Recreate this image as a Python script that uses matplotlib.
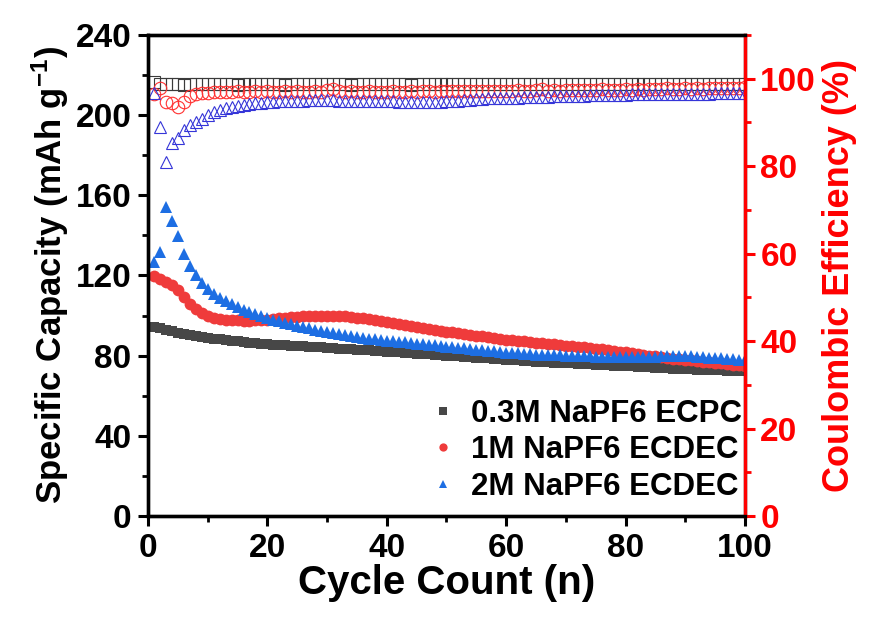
import numpy as np
import matplotlib
matplotlib.use("Agg")
import matplotlib.pyplot as plt
from matplotlib.ticker import MultipleLocator

# datos
ciclos = np.arange(1, 101)

cap_03 = [94.5, 93.6, 92.8, 92.1, 91.5, 90.9, 90.3, 89.8, 89.3, 88.9,
          88.5, 88.1, 87.7, 87.4, 87.1, 86.8, 86.5, 86.2, 86.0, 85.7,
          85.5, 85.3, 85.1, 84.9, 84.7, 84.6, 84.4, 84.2, 84.1, 83.9,
          83.7, 83.5, 83.3, 83.2, 83.0, 82.8, 82.6, 82.4, 82.2, 82.0,
          81.8, 81.6, 81.4, 81.2, 81.0, 80.8, 80.6, 80.4, 80.2, 80.0,
          79.8, 79.6, 79.4, 79.2, 79.0, 78.8, 78.6, 78.4, 78.2, 78.0,
          77.8, 77.6, 77.4, 77.2, 77.0, 76.8, 76.7, 76.5, 76.4, 76.2,
          76.1, 75.9, 75.8, 75.6, 75.5, 75.3, 75.2, 75.0, 74.9, 74.7,
          74.6, 74.4, 74.3, 74.1, 74.0, 73.8, 73.7, 73.5, 73.4, 73.2,
          73.1, 73.0, 72.9, 72.8, 72.7, 72.6, 72.5, 72.4, 72.3, 72.2]

cap_1m = [119.5, 118.0, 117.0, 115.5, 113.0, 109.5, 106.0, 103.5, 101.5, 100.0,
          99.0, 98.5, 98.0, 97.8, 97.6, 97.5, 97.5, 97.6, 97.8, 98.0,
          98.3, 98.6, 98.9, 99.2, 99.4, 99.6, 99.8, 99.9, 100.0, 100.0,
          99.9, 99.8, 99.6, 99.3, 99.0, 98.6, 98.1, 97.6, 97.1, 96.6,
          96.1, 95.6, 95.1, 94.6, 94.1, 93.6, 93.2, 92.8, 92.4, 92.0,
          91.6, 91.2, 90.8, 90.4, 90.0, 89.6, 89.2, 88.8, 88.4, 88.0,
          87.7, 87.4, 87.1, 86.8, 86.5, 86.2, 85.9, 85.6, 85.3, 85.0,
          84.7, 84.4, 84.1, 83.8, 83.5, 83.2, 82.8, 82.4, 82.0, 81.6,
          81.2, 80.8, 80.4, 80.0, 79.6, 79.2, 78.8, 78.5, 78.2, 77.9,
          77.6, 77.3, 77.0, 76.7, 76.4, 76.1, 75.8, 75.5, 75.2, 74.8]

cap_2m = [126.5, 131.5, 154.0, 147.0, 139.5, 130.5, 124.5, 120.0, 116.5, 113.5,
          111.0, 109.0, 107.5, 106.0, 104.5, 103.0, 102.0, 101.0, 100.0, 99.0,
          98.0, 97.2, 96.4, 95.6, 95.0, 94.3, 93.6, 93.0, 92.4, 91.8,
          91.2, 90.7, 90.2, 89.7, 89.3, 88.9, 88.5, 88.1, 87.8, 87.5,
          87.2, 86.9, 86.6, 86.3, 86.0, 85.7, 85.4, 85.1, 84.8, 84.5,
          84.2, 83.9, 83.6, 83.3, 83.0, 82.7, 82.4, 82.1, 81.8, 81.5,
          81.3, 81.1, 80.9, 80.7, 80.5, 80.4, 80.3, 80.2, 80.1, 80.0,
          79.9, 79.8, 79.7, 79.6, 79.5, 79.5, 79.4, 79.4, 79.3, 79.3,
          79.3, 79.2, 79.2, 79.3, 79.4, 79.6, 79.8, 80.0, 80.0, 79.8,
          79.6, 79.4, 79.2, 79.0, 78.8, 78.6, 78.4, 78.2, 78.0, 77.8]

ce_03 = [99.3, 98.9, 98.8, 98.7, 98.8, 98.6, 98.8, 98.7, 98.8, 98.7,
         98.8, 98.7, 98.8, 98.7, 98.6, 98.8, 98.7, 98.8, 98.7, 98.8,
         98.7, 98.8, 98.6, 98.7, 98.8, 98.7, 98.8, 98.7, 98.9, 98.7,
         98.8, 98.7, 98.8, 98.6, 98.7, 98.8, 98.7, 98.8, 98.7, 98.8,
         98.7, 98.8, 98.7, 98.6, 98.8, 98.7, 98.8, 98.7, 98.8, 98.7,
         98.8, 98.7, 98.8, 98.7, 98.8, 98.7, 98.8, 98.9, 98.8, 98.7,
         98.8, 98.9, 98.8, 98.7, 98.8, 98.9, 98.8, 98.9, 98.8, 98.9,
         98.8, 98.9, 98.8, 98.9, 98.8, 98.9, 98.8, 98.9, 98.8, 98.9,
         98.8, 98.9, 98.8, 98.9, 98.8, 98.9, 98.9, 98.8, 98.9, 98.8,
         98.9, 98.9, 98.8, 98.9, 98.9, 98.8, 98.9, 98.9, 98.8, 98.9]

ce_1m = [96.5, 97.8, 94.7, 94.4, 93.6, 94.7, 96.0, 96.5, 96.7, 96.8,
         96.9, 97.0, 96.9, 97.0, 97.1, 97.0, 96.9, 97.1, 97.0, 97.1,
         97.0, 96.9, 97.1, 97.0, 97.2, 97.0, 96.9, 97.1, 97.0, 97.4,
         97.6, 97.2, 97.0, 97.1, 96.9, 97.0, 97.1, 97.0, 96.9, 97.0,
         97.1, 97.0, 96.9, 97.1, 97.0, 97.1, 97.2, 97.0, 97.1, 97.2,
         97.1, 97.3, 97.2, 97.1, 97.3, 97.2, 97.3, 97.1, 97.2, 97.3,
         97.2, 97.4, 97.3, 97.2, 97.4, 97.6, 97.3, 97.4, 97.3, 97.4,
         97.5, 97.4, 97.5, 97.4, 97.5, 97.6, 97.5, 97.4, 97.5, 97.6,
         97.5, 97.6, 97.5, 97.6, 97.7, 97.6, 97.8, 97.6, 97.7, 97.8,
         97.7, 97.8, 97.7, 97.8, 97.9, 97.8, 97.9, 97.8, 97.9, 98.0]

ce_2m = [96.7, 89.0, 81.0, 85.2, 86.4, 88.3, 89.4, 90.2, 90.9, 91.7,
         92.3, 92.8, 93.2, 93.5, 93.8, 94.0, 94.2, 94.4, 94.5, 94.7,
         94.7, 94.8, 94.9, 94.9, 95.0, 95.0, 95.1, 95.1, 95.1, 95.1,
         95.1, 95.0, 95.0, 95.0, 94.9, 94.9, 94.9, 94.8, 94.8, 94.8,
         94.8, 94.7, 94.7, 94.7, 94.7, 94.7, 94.7, 94.7, 94.7, 94.8,
         94.9, 95.0, 95.1, 95.2, 95.3, 95.4, 95.5, 95.5, 95.6, 95.6,
         95.7, 95.7, 95.8, 95.8, 95.9, 95.9, 95.9, 96.0, 96.0, 96.0,
         96.1, 96.1, 96.1, 96.2, 96.2, 96.2, 96.3, 96.3, 96.3, 96.3,
         96.4, 96.4, 96.4, 96.4, 96.5, 96.5, 96.5, 96.5, 96.5, 96.6,
         96.6, 96.6, 96.6, 96.6, 96.7, 96.7, 96.7, 96.7, 96.7, 96.7]

etiquetas = ["0.3M NaPF6 ECPC", "1M NaPF6 ECDEC", "2M NaPF6 ECDEC"]

# fuente tipo Arial en negrita
plt.rcParams['font.family'] = ['Liberation Sans', 'DejaVu Sans']
plt.rcParams['font.weight'] = 'bold'
plt.rcParams['mathtext.fontset'] = 'custom'
plt.rcParams['mathtext.rm'] = 'Liberation Sans:bold'
plt.rcParams['mathtext.default'] = 'rm'

fig = plt.figure(figsize=(8.7, 6.17), dpi=100)
ax = fig.add_axes([0.1701, 0.1637, 0.6862, 0.7796])
ax2 = ax.twinx()

c_negro = '#474747'
c_rojo = '#ef3b3b'
c_azul = '#1d6ee3'

# capacidad (simbolos llenos)
ax.plot(ciclos, cap_03, 's', color=c_negro, ms=7.5, mew=0, label=etiquetas[0])
ax.plot(ciclos, cap_1m, 'o', color=c_rojo, ms=8.5, mew=0, label=etiquetas[1])
ax.plot(ciclos, cap_2m, '^', color=c_azul, ms=9, mew=0, label=etiquetas[2])

# eficiencia coulombica (simbolos huecos)
ax2.plot(ciclos, ce_03, 's', mfc='none', mec='#3a3a3a', ms=8, mew=0.8)
ax2.plot(ciclos, ce_1m, 'o', mfc='none', mec='#ff3030', ms=9, mew=0.8)
ax2.plot(ciclos, ce_2m, '^', mfc='none', mec='#3535d8', ms=9, mew=0.8)

ax.set_xlim(0, 100)
ax.set_ylim(0, 240)
ax2.set_ylim(0, 110)

ax.xaxis.set_major_locator(MultipleLocator(20))
ax.xaxis.set_minor_locator(MultipleLocator(10))
ax.yaxis.set_major_locator(MultipleLocator(40))
ax.yaxis.set_minor_locator(MultipleLocator(20))
ax2.yaxis.set_major_locator(MultipleLocator(20))
ax2.yaxis.set_minor_locator(MultipleLocator(10))

for a in (ax, ax2):
    for s in a.spines.values():
        s.set_linewidth(2.4)
        s.set_color('black')
ax2.spines['right'].set_color('red')

ax.tick_params(axis='both', which='major', direction='out', length=7, width=2.2,
               labelsize=24, pad=5)
ax.tick_params(axis='both', which='minor', direction='out', length=4, width=2.0)
ax2.tick_params(axis='y', which='major', direction='out', length=7, width=2.2,
                labelsize=24, pad=4, colors='red')
ax2.tick_params(axis='y', which='minor', direction='out', length=4, width=2.0,
                colors='red')

ax.set_xlabel('Cycle Count (n)', fontsize=29, fontweight='bold', labelpad=0)
ax.set_ylabel('Specific Capacity (mAh g$^{-1}$)', fontsize=25, fontweight='bold',
              labelpad=3)
ax2.set_ylabel('Coulombic Efficiency (%)', fontsize=26, fontweight='bold',
               color='red', labelpad=4)

ax.legend(loc='lower right', bbox_to_anchor=(0.995, 0.03), frameon=False,
          fontsize=22.5, handletextpad=0.2, handlelength=1.4, labelspacing=0.2,
          borderpad=0, borderaxespad=0, markerscale=0.7)

fig.savefig('out.png', dpi=100)
